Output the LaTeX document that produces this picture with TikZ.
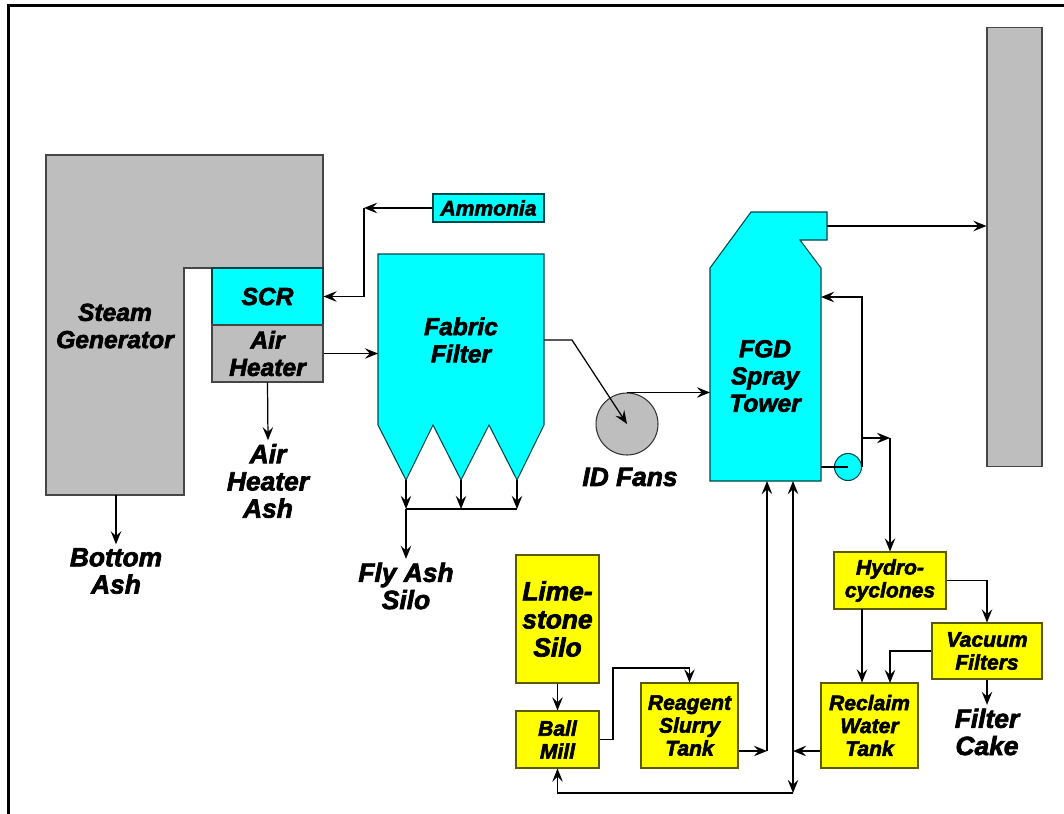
\documentclass[tikz,border=0pt]{standalone}
\usepackage{fontspec}
\setmainfont{Liberation Sans}[BoldItalicFeatures={FakeBold=2.6}]
\usetikzlibrary{arrows.meta,positioning}
\definecolor{toweraqua}{RGB}{0,255,255}
\definecolor{slurryyellow}{RGB}{255,255,0}
\definecolor{ashgrey}{RGB}{190,190,190}
\definecolor{aquaedge}{RGB}{0,70,70}
\definecolor{yellowedge}{RGB}{90,90,0}
\definecolor{greyedge}{RGB}{70,70,70}

\begin{document}
\begin{tikzpicture}[x=0.02cm,y=-0.02cm,
  txt/.style={font=\fontsize{14}{15.5}\selectfont\bfseries\itshape,align=center},
  lbl/.style={txt,font=\fontsize{15}{15.5}\selectfont\bfseries\itshape,inner sep=2pt},
  cbox/.style={txt,draw=aquaedge,fill=toweraqua,line width=0.6pt,inner sep=0pt},
  gbox/.style={txt,draw=greyedge,fill=ashgrey,line width=0.6pt,inner sep=0pt},
  ybox/.style={txt,font=\fontsize{12}{13}\selectfont\bfseries\itshape,draw=yellowedge,fill=slurryyellow,line width=0.6pt,inner sep=0pt},
  flow/.style={-{Stealth[length=7.5pt,width=6pt,inset=2.8pt]},line width=0.7pt},
  pipe/.style={line width=0.7pt}]
\useasboundingbox (0,0) rectangle (1064,814);
\draw[line width=1.7pt] (8.5,814) |- (1064,5.5);

\draw[draw=greyedge,fill=ashgrey,line width=0.6pt] (46,155) -- (323,155) -- (323,268) -- (184,268) -- (184,495) -- (46,495) -- cycle;
\node[txt] (steam) at (115,326) {Steam\\Generator};
\coordinate (sgbot) at (116,495);
\node[lbl] (bottomash) at (116,571) {Bottom\\Ash};
\draw[flow] (sgbot) -- (bottomash.north);

\node[cbox,minimum width=2.22cm,minimum height=1.14cm] (scr) at (267.5,296.5) {SCR};
\node[gbox,minimum width=2.22cm,minimum height=1.14cm] (airheater) at (267.5,353.5) {Air\\Heater};
\node[lbl] (ahash) at (268,481) {Air\\Heater\\Ash};
\draw[flow] (airheater.south) -- (ahash.north);

\node[cbox,minimum width=2.22cm,minimum height=0.56cm,font=\fontsize{12}{13}\selectfont\bfseries\itshape] (ammonia) at (488.5,208) {Ammonia};
\coordinate (nh3turn) at (364,208);
\draw[flow] (ammonia.west) -- (nh3turn);
\draw[flow] (nh3turn) |- (scr.east);

\draw[draw=aquaedge,fill=toweraqua,line width=0.6pt] (378,254) -- (544,254) -- (544,425) -- (517,480) -- (489,425) -- (461,480) -- (433,425) -- (406,480) -- (378,425) -- cycle;
\node[txt] (fabric) at (461,340) {Fabric\\Filter};
\coordinate (ffin) at (378,353);
\draw[flow] (airheater.east) -- (airheater.east -| ffin);
\coordinate (hop1) at (406,480);
\coordinate (hop2) at (461,480);
\coordinate (hop3) at (517,480);
\coordinate (ashhdr) at (406,509);
\foreach \h in {1,2,3}
  \draw[flow] (hop\h) -- (hop\h |- ashhdr);
\draw[pipe] (ashhdr) -- (ashhdr -| hop3);
\node[lbl] (flyash) at (406,586) {Fly Ash\\Silo};
\draw[flow] (ashhdr) -- (flyash.north);

\node[circle,draw=black!80,fill=ashgrey,line width=0.6pt,minimum size=1.24cm,inner sep=0pt] (idfan) at (627,424) {};
\node[lbl] (fanlbl) at (630,477) {ID Fans};
\coordinate (ffout) at (544,340);
\coordinate (ffbend) at (572,340);
\draw[flow] (ffout) -- (ffbend) -- (idfan.center);

\draw[draw=aquaedge,fill=toweraqua,line width=0.6pt] (751,212) -- (827,212) -- (827,240) -- (800,240) -- (821,268) -- (821,481) -- (710,481) -- (710,268) -- cycle;
\node[txt] (fgd) at (765,376) {FGD\\Spray\\Tower};
\coordinate (fgdin) at (710,393);
\draw[flow] (idfan.north) -- (idfan.north -| fgdin);

\node[gbox,minimum width=1.10cm,minimum height=8.80cm] (stack) at (1014.5,247) {};
\coordinate (fgdout) at (827,226);
\draw[flow] (fgdout) -- (fgdout -| stack.west);

\node[circle,draw=aquaedge,fill=toweraqua,line width=0.6pt,minimum size=0.54cm,inner sep=0pt] (pump) at (848,467) {};
\coordinate (fgdsump) at (821,467);
\draw[pipe] (fgdsump) -- (pump.center);
\coordinate (fgdret) at (821,297);
\draw[flow] (pump.east) |- (fgdret);
\coordinate (bleedtee) at (862,438);
\coordinate (bleedturn) at (890,438);
\draw[flow] (bleedtee) -- (bleedturn);

\node[ybox,minimum width=1.66cm,minimum height=2.56cm,font=\fontsize{15}{16}\selectfont\bfseries\itshape] (silo) at (557.5,619) {Lime-\\stone\\Silo};
\node[ybox,minimum width=1.66cm,minimum height=1.14cm] (ballmill) at (557.5,739.5) {Ball\\Mill};
\node[ybox,minimum width=1.94cm,minimum height=1.70cm] (reagent) at (689.5,725.5) {Reagent\\Slurry\\Tank};
\node[ybox,minimum width=2.24cm,minimum height=1.14cm] (hydro) at (890,580.5) {Hydro-\\cyclones};
\node[ybox,minimum width=2.20cm,minimum height=1.12cm] (vacuum) at (987,651) {Vacuum\\Filters};
\node[ybox,minimum width=1.94cm,minimum height=1.70cm] (reclaim) at (869.5,725.5) {Reclaim\\Water\\Tank};
\node[lbl] (cake) at (987,732) {Filter\\Cake};

\draw[flow] (bleedturn) -- (hydro.north);
\draw[flow] (silo) -- (ballmill);
\coordinate (millbend) at (613,668);
\draw[flow] (ballmill.east) -| (millbend) -| (reagent.north);

\coordinate (fgdbase) at (765,481);
\coordinate (feedtee) at (767,751);
\draw[flow] (reagent.east |- feedtee) -- (feedtee);
\draw[flow] (feedtee) -- (feedtee |- fgdbase);
\coordinate (watertee) at (793,751);
\coordinate (millret) at (793,793);
\draw[flow] (reclaim.west |- watertee) -- (watertee);
\draw[flow] (watertee) -- (watertee |- fgdbase);
\draw[flow] (watertee) -- (millret);
\draw[flow] (millret) -| (ballmill.south);

\draw[flow] (hydro.east) -| (vacuum.north);
\coordinate (underflow) at (862,609);
\draw[flow] (underflow) -- (underflow |- reclaim.north);
\coordinate (filtdrop) at (890,683);
\draw[flow] (vacuum.west) -| (filtdrop);
\draw[flow] (vacuum.south) -- (cake.north);
\end{tikzpicture}
\end{document}
